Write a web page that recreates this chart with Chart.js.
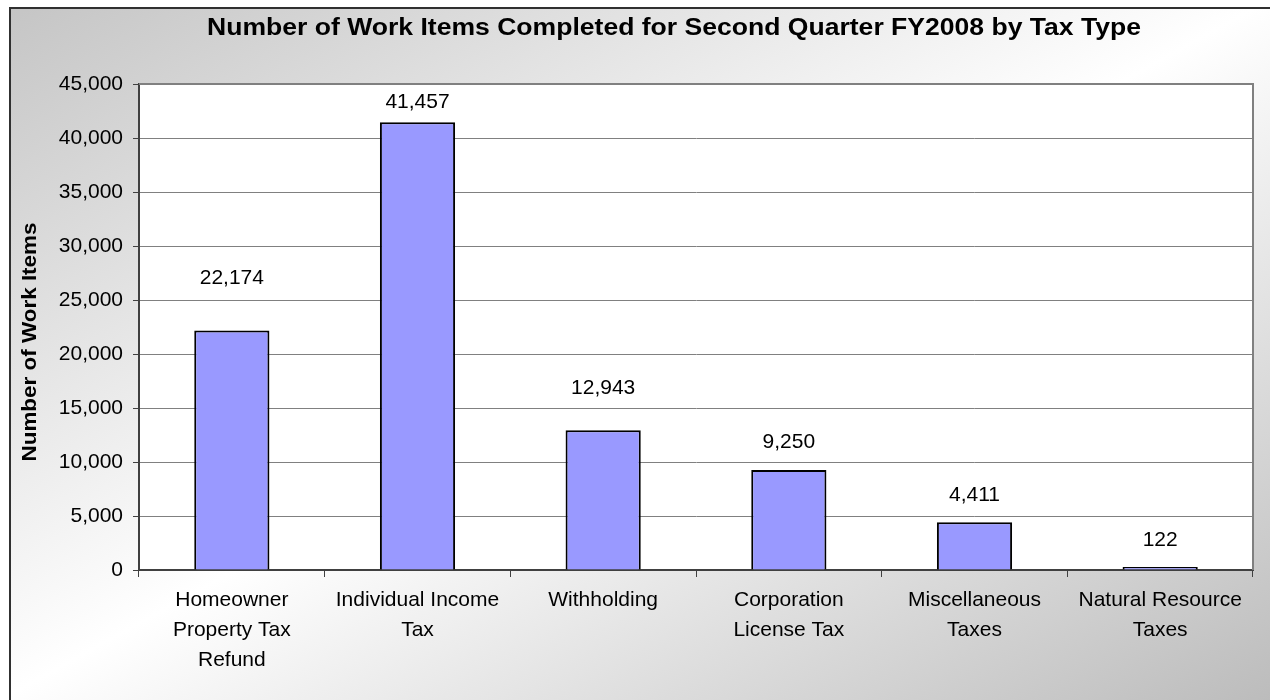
<!DOCTYPE html>
<html>
<head>
<meta charset="utf-8">
<script src="https://cdn.jsdelivr.net/npm/chart.js@4"></script>
<style>
html,body{margin:0;padding:0;background:#fff;}
#wrap{width:1270px;height:700px;position:relative;}
</style>
</head>
<body>
<div id="wrap"><canvas id="c" width="1270" height="700"></canvas></div>
<script>
const categories = [
  ['Homeowner', 'Property Tax', 'Refund'],
  ['Individual Income', 'Tax'],
  ['Withholding'],
  ['Corporation', 'License Tax'],
  ['Miscellaneous', 'Taxes'],
  ['Natural Resource', 'Taxes']
];
const workItems = [22174, 41457, 12943, 9250, 4411, 122];
const yTicks = [0, 5000, 10000, 15000, 20000, 25000, 30000, 35000, 40000, 45000];
const chartTitle = 'Number of Work Items Completed for Second Quarter FY2008 by Tax Type';
const yTitle = 'Number of Work Items';
// label gaps above bar tops (style, px)
const labelGaps = [52, 20, 42, 28, 27, 27];

const FONT = '"Liberation Sans", Arial, sans-serif';
const fmt = v => v.toLocaleString('en-US');

function stretchedText(ctx, text, x, y, targetWidth) {
  const w = ctx.measureText(text).width;
  ctx.save();
  ctx.translate(x, y);
  ctx.scale(targetWidth / w, 1);
  ctx.fillText(text, 0, 0);
  ctx.restore();
}

const bgPlugin = {
  id: 'bg',
  beforeDraw(chart) {
    const ctx = chart.ctx, W = chart.width, H = chart.height;
    ctx.save();
    const g = ctx.createLinearGradient(339, -187, 931, 887);
    g.addColorStop(0, '#c4c4c4');
    g.addColorStop(0.5, '#ffffff');
    g.addColorStop(1, '#bcbcbc');
    ctx.fillStyle = g;
    ctx.fillRect(0, 0, W, H);
    ctx.fillStyle = '#ffffff';
    ctx.fillRect(0, 0, W, 7);
    ctx.fillRect(0, 0, 9, H);
    ctx.strokeStyle = '#303030';
    ctx.lineWidth = 2;
    ctx.beginPath();
    ctx.moveTo(10, H + 5);
    ctx.lineTo(10, 8);
    ctx.lineTo(W + 5, 8);
    ctx.stroke();
    const a = chart.chartArea;
    ctx.fillStyle = '#ffffff';
    ctx.fillRect(a.left, a.top, a.right - a.left, a.bottom - a.top);
    ctx.restore();
  },
  afterDraw(chart) {
    const ctx = chart.ctx, a = chart.chartArea;
    ctx.save();
    ctx.strokeStyle = '#808080';
    ctx.lineWidth = 2;
    ctx.beginPath();
    ctx.moveTo(a.left, a.top);
    ctx.lineTo(a.right, a.top);
    ctx.lineTo(a.right, a.bottom);
    ctx.stroke();
    // title
    ctx.fillStyle = '#000';
    ctx.textAlign = 'center';
    ctx.textBaseline = 'middle';
    ctx.font = 'bold 23px ' + FONT;
    stretchedText(ctx, chartTitle, 674, 29, 934);
    // y title
    ctx.translate(30, 342);
    ctx.rotate(-Math.PI / 2);
    ctx.font = 'bold 20px ' + FONT;
    stretchedText(ctx, yTitle, 0, 0, 239);
    ctx.restore();
  },
  afterDatasetsDraw(chart) {
    const ctx = chart.ctx;
    const meta = chart.getDatasetMeta(0);
    ctx.save();
    ctx.fillStyle = '#000';
    ctx.textAlign = 'center';
    ctx.textBaseline = 'middle';
    ctx.font = '21px ' + FONT;
    meta.data.forEach((bar, i) => {
      ctx.fillText(fmt(workItems[i]), bar.x, bar.y - labelGaps[i]);
    });
    ctx.restore();
  }
};

new Chart(document.getElementById('c'), {
  type: 'bar',
  data: {
    labels: categories,
    datasets: [{
      data: workItems,
      backgroundColor: '#9999ff',
      borderColor: '#000000',
      borderWidth: 2,
      borderSkipped: 'bottom',
      minBarLength: 3,
      barPercentage: 0.405,
      categoryPercentage: 1
    }]
  },
  options: {
    responsive: false,
    animation: false,
    devicePixelRatio: 1,
    layout: { padding: { top: 84, right: 17, left: 0, bottom: 0 } },
    plugins: { legend: { display: false }, tooltip: { enabled: false }, title: { display: false } },
    scales: {
      x: {
        grid: { offset: true, drawOnChartArea: false, tickLength: 7, tickColor: '#404040', color: '#404040' },
        border: { color: '#404040', width: 2 },
        ticks: {
          color: '#000', autoSkip: false, maxRotation: 0, minRotation: 0, padding: 8,
          font: { family: FONT, size: 21, lineHeight: 1.43 }
        },
        afterFit(s) { s.height = 130; }
      },
      y: {
        min: 0, max: 45000,
        afterBuildTicks(s) { s.ticks = yTicks.map(v => ({ value: v })); },
        grid: { color: '#808080', lineWidth: 1, tickLength: 6, tickColor: '#404040' },
        border: { color: '#404040', width: 2 },
        ticks: {
          color: '#000', padding: 10,
          font: { family: FONT, size: 21 },
          callback: v => fmt(v)
        },
        afterFit(s) { s.width = 139; }
      }
    }
  },
  plugins: [bgPlugin]
});
</script>
</body>
</html>
